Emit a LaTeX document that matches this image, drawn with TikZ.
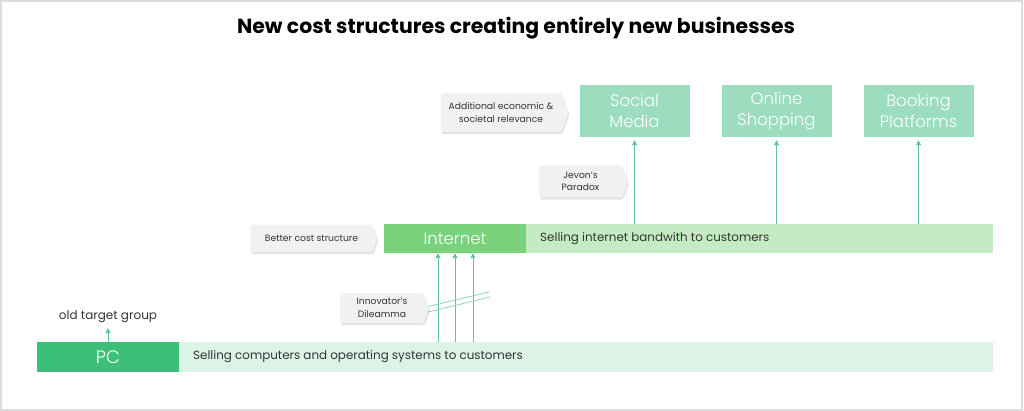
\documentclass[tikz,border=0pt]{standalone}
\usepackage{fontspec}
\setmainfont{Poppins}
\newfontfamily\lightfont{Poppins}[UprightFont={* Light}]
\usetikzlibrary{shapes.symbols,shadows,arrows.meta}
\definecolor{pcgreen}{HTML}{3CBF78}
\definecolor{pcbar}{HTML}{DCF4E7}
\definecolor{inetgreen}{HTML}{7AD37C}
\definecolor{inetbar}{HTML}{C3ECC2}
\definecolor{mint}{HTML}{9CDDBF}
\definecolor{arrowc}{HTML}{5EC394}
\definecolor{txt}{HTML}{333333}
\definecolor{callfill}{HTML}{F1F1F1}
\definecolor{frame}{HTML}{DDDDDD}
\tikzset{
  mainbox/.style={inner sep=0pt, text=white, font=\lightfont\fontsize{16.5}{21}\selectfont, align=center},
  barbox/.style={inner sep=0pt, anchor=north west, text=txt, font=\fontsize{11.9}{13}\selectfont},
  callbox/.style={signal, signal to=east, signal pointer angle=140, fill=callfill, inner sep=0pt,
     rounded corners=2.5pt, text=txt, align=center, font=\fontsize{9.2}{12.5}\selectfont,
     drop shadow={opacity=0.22, shadow xshift=1pt, shadow yshift=-2.2pt}},
  arr/.style={draw=arrowc, line width=0.9pt, -{Triangle[width=5pt,length=5pt]}},
  breakline/.style={draw=arrowc!70, line width=0.8pt},
}
\begin{document}
\begin{tikzpicture}[x=1pt,y=-1pt]
\useasboundingbox (0,0) rectangle (1024,411);
\draw[frame, line width=2pt] (1,1) rectangle (1022,410);

\node[font=\bfseries\fontsize{20.4}{24}\selectfont, text=black] (title) at (516,28) {New cost structures creating entirely new businesses};

% PC level
\fill[pcbar] (179,342) rectangle (993,372);
\node[barbox, minimum height=30pt, anchor=west] (pcbartext) at (193,357) {Selling computers and operating systems to customers};
\node[mainbox, fill=pcgreen, minimum width=142pt, minimum height=30pt, font=\lightfont\fontsize{18}{20}\selectfont] (pc) at (108,357) {PC};
\node[text=txt, font=\fontsize{12}{14}\selectfont] (old) at (108,317) {old target group};
\draw[arr] (pc.north) -- (108,328);

% Internet level
\fill[inetbar] (526,224) rectangle (993,253);
\node[barbox, anchor=west] (inetbartext) at (540,239) {Selling internet bandwith to customers};
\node[mainbox, fill=inetgreen, minimum width=142pt, minimum height=29pt] (inet) at (455,238.5) {Internet};

% Arrows from PC bar to Internet
\coordinate (pctop) at (0,342);
\foreach \x in {438,455,473} {
  \draw[arr] (pctop -| \x,0) -- (inet.south -| \x,0);
}
\draw[breakline] (426,307) -- (489,292);
\draw[breakline] (426,312.5) -- (490,297);

% Top boxes
\node[mainbox, fill=mint, minimum width=110pt, minimum height=52pt] (social) at (634.5,111) {Social\\Media};
\node[mainbox, fill=mint, minimum width=110pt, minimum height=52pt] (shop) at (776.5,111) {Online\\Shopping};
\node[mainbox, fill=mint, minimum width=110pt, minimum height=52pt] (book) at (918.5,111) {Booking\\Platforms};
\coordinate (inettop) at (0,224);
\draw[arr] (inettop -| social.south) -- ([yshift=-3pt]social.south);
\draw[arr] (inettop -| shop.south) -- ([yshift=-3pt]shop.south);
\draw[arr] (inettop -| book.south) -- ([yshift=-3pt]book.south);

% Callouts
\node[callbox, minimum width=127pt, minimum height=27pt] (better) at (311.5,238.5) {Better cost structure};
\node[callbox, minimum width=89pt, minimum height=30pt] (innov) at (382,308) {Innovator's\\Dileamma};
\node[callbox, minimum width=89pt, minimum height=32pt] (jevon) at (580.5,181.5) {Jevon's\\Paradox};
\node[callbox, minimum width=128pt, minimum height=39pt] (addl) at (501,112.5) {Additional economic \&\\societal relevance};
\end{tikzpicture}
\end{document}
